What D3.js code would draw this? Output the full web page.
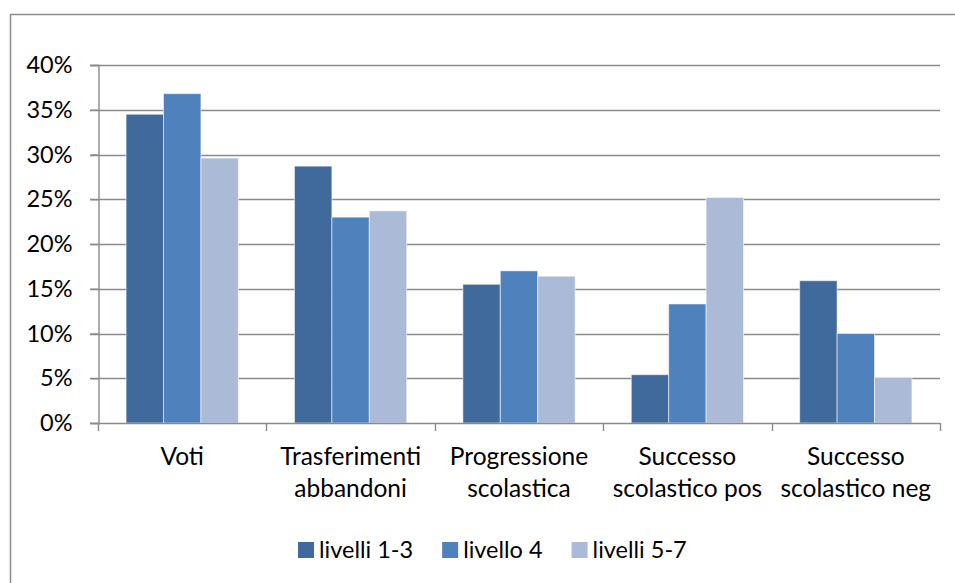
<!DOCTYPE html>
<html>
<head>
<meta charset="utf-8">
<script src="https://cdn.jsdelivr.net/npm/d3@7"></script>
<style>
  body { margin: 0; background: #fff; }
  text { font-family: Lato, "Open Sans", sans-serif; fill: #000; }
</style>
</head>
<body>
<div id="chart"></div>
<script>
const W = 955, H = 583;
const margin = {top: 65, right: 15, bottom: 160, left: 98};

const categories = ["Voti", "Trasferimenti abbandoni", "Progressione scolastica", "Successo scolastico pos", "Successo scolastico neg"];
const catLines = [["Voti"], ["Trasferimenti", "abbandoni"], ["Progressione", "scolastica"], ["Successo", "scolastico pos"], ["Successo", "scolastico neg"]];
const seriesNames = ["livelli 1-3", "livello 4", "livelli 5-7"];
const livelli13 = [0.345, 0.287, 0.155, 0.054, 0.159];
const livello4 = [0.368, 0.230, 0.170, 0.133, 0.100];
const livelli57 = [0.296, 0.237, 0.164, 0.252, 0.051];
const colors = ["#416A9C", "#4F81BD", "#AABAD7"];
const yTicks = [0, 0.05, 0.1, 0.15, 0.2, 0.25, 0.3, 0.35, 0.4];

const values = [livelli13, livello4, livelli57];

const svg = d3.select("#chart").append("svg")
    .attr("width", W)
    .attr("height", H);

// chart border (right/bottom fall outside the picture)
svg.append("rect")
    .attr("x", 10.5).attr("y", 14.5)
    .attr("width", 966).attr("height", 600)
    .attr("fill", "none")
    .attr("stroke", "#8c8c8c")
    .attr("stroke-width", 1.5);

const x0 = d3.scaleBand()
    .domain(categories)
    .range([margin.left, W - margin.right])
    .padding(0);

// excel style: gap width 150% of a bar
const bw = x0.bandwidth();
const barW = bw / 4.5;
const x1 = d3.scaleBand()
    .domain(seriesNames)
    .range([barW * 0.75, bw - barW * 0.75])
    .padding(0);

const y = d3.scaleLinear()
    .domain([0, 0.4])
    .range([423, margin.top]);

// gridlines
svg.append("g")
    .selectAll("line")
    .data(yTicks.slice(1))
    .join("line")
    .attr("x1", margin.left - 8)
    .attr("x2", W - margin.right)
    .attr("y1", d => Math.round(y(d)) + 0.5)
    .attr("y2", d => Math.round(y(d)) + 0.5)
    .attr("stroke", "#8a8a8a")
    .attr("stroke-width", 1.4);

// bars
const barData = [];
categories.forEach((c, i) => {
    seriesNames.forEach((s, j) => {
        barData.push({cat: c, series: s, value: values[j][i], color: colors[j]});
    });
});

svg.append("g")
    .selectAll("rect")
    .data(barData)
    .join("rect")
    .attr("x", d => x0(d.cat) + x1(d.series))
    .attr("y", d => y(d.value))
    .attr("width", x1.bandwidth())
    .attr("height", d => y(0) - y(d.value))
    .attr("fill", d => d.color)
    .attr("stroke", "rgba(255,255,255,0.55)")
    .attr("stroke-width", 1);

// y axis
const yAxis = svg.append("g")
    .attr("transform", `translate(${margin.left + 0.5},0)`)
    .call(d3.axisLeft(y).tickValues(yTicks).tickFormat(d3.format(".0%")).tickSize(8).tickPadding(18));
yAxis.select(".domain").attr("stroke", "#8a8a8a").attr("stroke-width", 1.4);
yAxis.selectAll(".tick line").attr("stroke", "#8a8a8a").attr("stroke-width", 1.4);
yAxis.selectAll(".tick text")
    .attr("font-size", 23.5)
    .attr("font-family", "Lato, sans-serif")
    .attr("fill", "#000");

// x axis line and ticks at category boundaries
const xg = svg.append("g");
xg.append("line")
    .attr("x1", margin.left - 8).attr("x2", W - margin.right)
    .attr("y1", y(0) + 0.5).attr("y2", y(0) + 0.5)
    .attr("stroke", "#8a8a8a").attr("stroke-width", 1.4);
const bounds = categories.map(c => x0(c)).concat([x0.range()[1]]);
xg.selectAll("line.tk")
    .data(bounds)
    .join("line")
    .attr("class", "tk")
    .attr("x1", d => Math.round(d) + 0.5).attr("x2", d => Math.round(d) + 0.5)
    .attr("y1", y(0)).attr("y2", y(0) + 8)
    .attr("stroke", "#8a8a8a").attr("stroke-width", 1.4);

// category labels
const lab = svg.append("g")
    .selectAll("text")
    .data(categories)
    .join("text")
    .attr("x", d => x0(d) + bw / 2)
    .attr("y", 465)
    .attr("text-anchor", "middle")
    .attr("font-size", 24.5);
lab.selectAll("tspan")
    .data((d, i) => catLines[i])
    .join("tspan")
    .attr("x", function() { return d3.select(this.parentNode).attr("x"); })
    .attr("dy", (d, i) => i === 0 ? 0 : 32)
    .text(d => d);

// legend
const legend = svg.append("g");
let lx = 298;
seriesNames.forEach((s, i) => {
    legend.append("rect")
        .attr("x", lx).attr("y", 542)
        .attr("width", 16).attr("height", 16)
        .attr("fill", colors[i]);
    const t = legend.append("text")
        .attr("x", lx + 21).attr("y", 558)
        .attr("font-size", 23.5)
        .text(s);
    lx += 21 + t.node().getComputedTextLength() + 29;
});
</script>
</body>
</html>
